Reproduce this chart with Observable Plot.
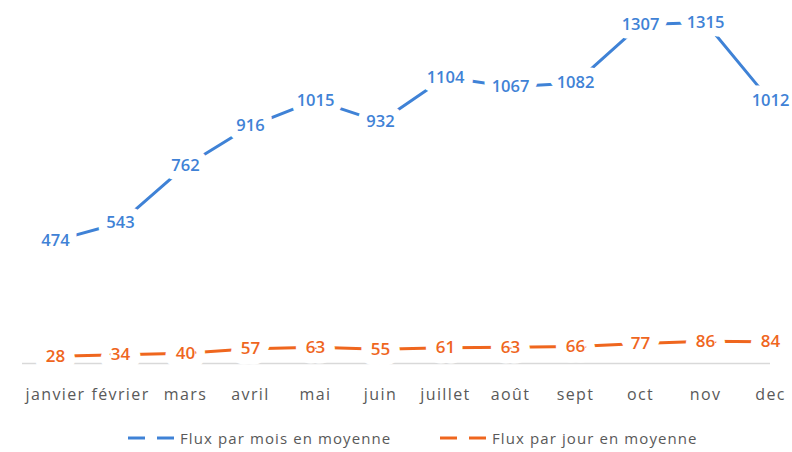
<!DOCTYPE html>
<html>
<head>
<meta charset="utf-8">
<script src="https://cdn.jsdelivr.net/npm/d3@7"></script>
<script src="https://cdn.jsdelivr.net/npm/@observablehq/plot@0.6"></script>
<style>
  html, body { margin: 0; padding: 0; background: #fff; }
  #chart { width: 792px; }
  .legend { height: 42px; font-family: "Open Sans", sans-serif; font-size: 15px; letter-spacing: 1.1px; color: #595959; }
  .legend .item { display: flex; align-items: center; position: absolute; top: 18px; }
  .legend svg { margin-right: 4px; }
</style>
</head>
<body>
<div id="chart"></div>
<script>
const months = ["janvier", "février", "mars", "avril", "mai", "juin", "juillet", "août", "sept", "oct", "nov", "dec"];
const fluxMois = [474, 543, 762, 916, 1015, 932, 1104, 1067, 1082, 1307, 1315, 1012];
const fluxJour = [28, 34, 40, 57, 63, 55, 61, 63, 66, 77, 86, 84];
const seriesNames = ["Flux par mois en moyenne", "Flux par jour en moyenne"];
const colors = ["#3f82d6", "#ef661e"];

const data = [];
months.forEach((m, i) => {
  data.push({month: m, value: fluxMois[i], series: seriesNames[0]});
  data.push({month: m, value: fluxJour[i], series: seriesNames[1]});
});

const labelOpts = (series, halo, size) => ({
  filter: d => d.series === series,
  x: "month", y: "value", text: d => String(d.value), fill: "series",
  stroke: "white", strokeWidth: halo, strokeLinejoin: "round",
  fontSize: size, fontWeight: 600
});

const plot = Plot.plot({
  width: 792,
  height: 410,
  marginTop: 0,
  marginLeft: 55,
  marginRight: 22,
  marginBottom: 47,
  x: {type: "point", domain: months, padding: 0, label: null},
  y: {domain: [0, 1400], axis: null},
  color: {domain: seriesNames, range: colors},
  style: {fontFamily: "Open Sans, sans-serif", background: "#fff"},
  marks: [
    Plot.ruleY([0], {stroke: "#d9d9d9", strokeWidth: 1.5, insetLeft: -33}),
    Plot.line(data, {x: "month", y: "value", z: "series", stroke: "series", strokeWidth: 3}),
    Plot.text(data, labelOpts(seriesNames[0], 17, 16.5)),
    Plot.text(data, labelOpts(seriesNames[1], 21, 17)),
    Plot.axisX({tickSize: 0, tickPadding: 25, fontSize: 16, fill: "#595959", label: null})
  ]
});
plot.querySelectorAll('g[aria-label="x-axis tick label"] text').forEach(t => t.style.letterSpacing = "1.4px");
document.getElementById("chart").appendChild(plot);

const legend = document.createElement("div");
legend.className = "legend";
legend.style.position = "relative";
const lx = [128, 440];
seriesNames.forEach((name, i) => {
  const item = document.createElement("div");
  item.className = "item";
  item.style.left = lx[i] + "px";
  item.innerHTML = `<svg width="48" height="10"><line x1="0" x2="17" y1="5" y2="5" stroke="${colors[i]}" stroke-width="3"/><line x1="29" x2="46" y1="5" y2="5" stroke="${colors[i]}" stroke-width="3"/></svg><span>${name}</span>`;
  legend.appendChild(item);
});
document.body.appendChild(legend);
</script>
</body>
</html>
